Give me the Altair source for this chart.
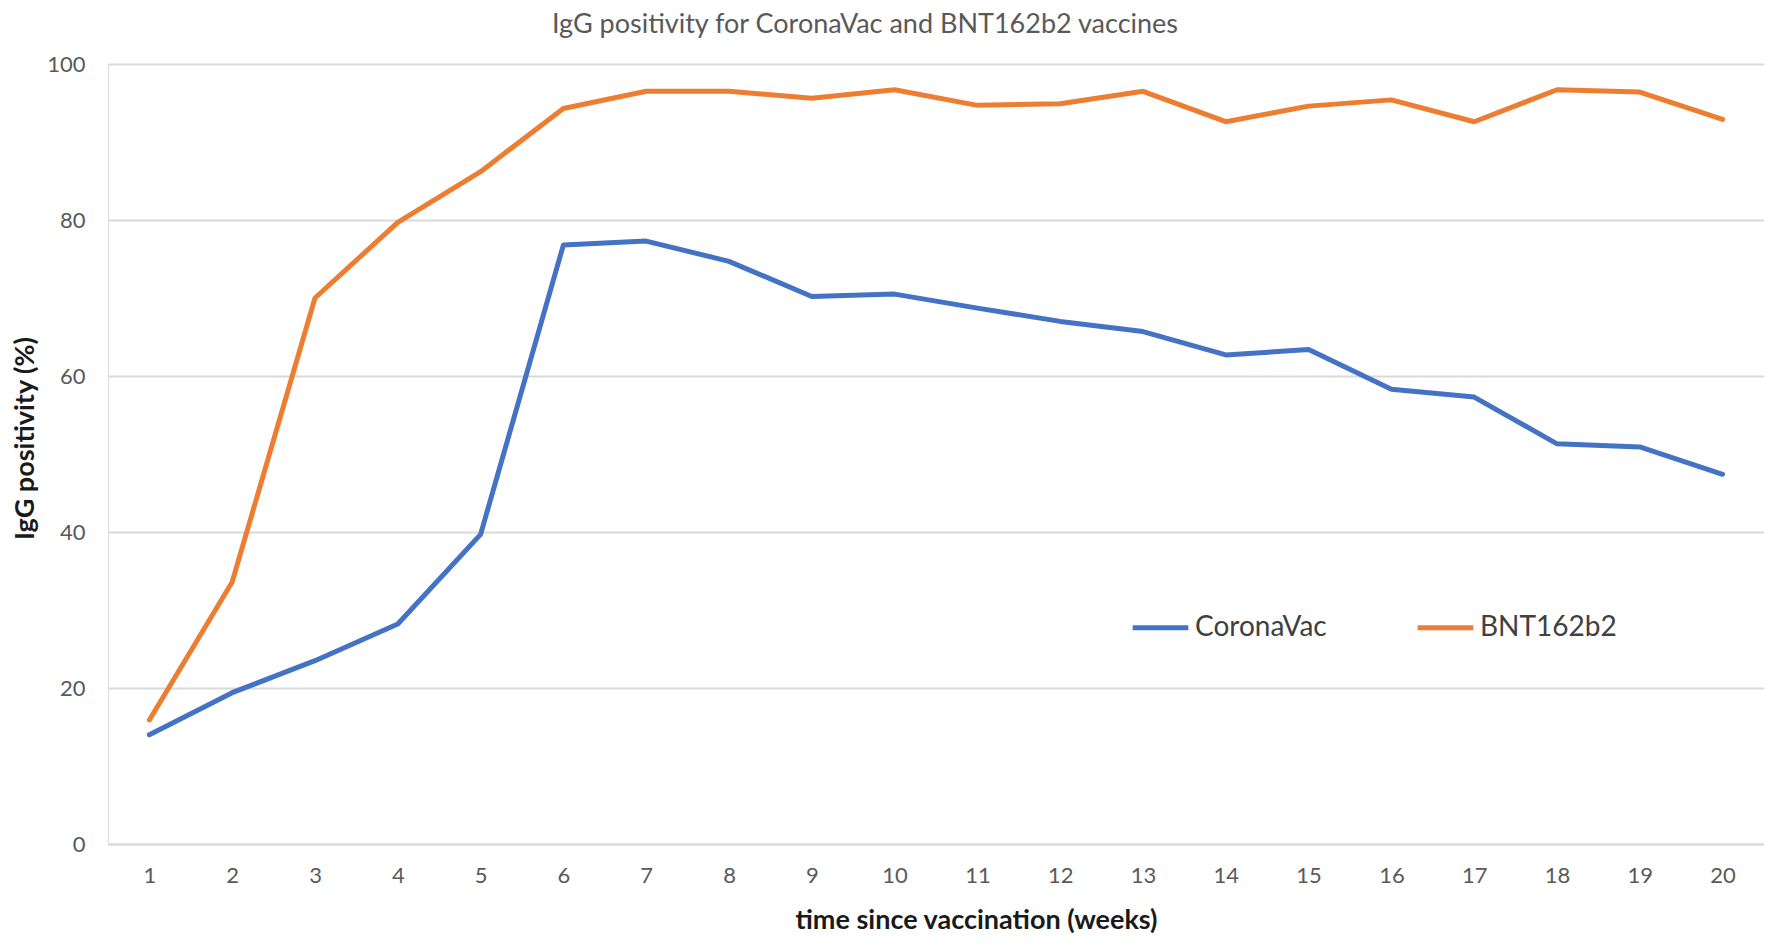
import altair as alt
import pandas as pd

weeks = list(range(1, 21))
coronavac = [14.0, 19.4, 23.5, 28.2, 39.7, 76.8, 77.3, 74.7, 70.2, 70.5,
             68.7, 67.0, 65.7, 62.7, 63.4, 58.3, 57.3, 51.3, 50.9, 47.4]
bnt162b2 = [15.9, 33.6, 70.0, 79.7, 86.2, 94.3, 96.5, 96.5, 95.6, 96.7,
            94.7, 94.9, 96.5, 92.6, 94.6, 95.4, 92.6, 96.7, 96.4, 92.9]
series_names = ["CoronaVac", "BNT162b2"]
series_colors = ["#4472C4", "#ED7D31"]
y_ticks = [0, 20, 40, 60, 80, 100]
chart_title = "IgG positivity for CoronaVac and BNT162b2 vaccines"

rows = []
for name, vals in zip(series_names, [coronavac, bnt162b2]):
    for w, v in zip(weeks, vals):
        rows.append({"week": w, "value": v, "series": name})
df = pd.DataFrame(rows)
title_df = pd.DataFrame({"label": [chart_title]})

FONT = "Lato"

lines = alt.Chart(df).mark_line(strokeWidth=5, strokeCap="round", strokeJoin="round").encode(
    x=alt.X("week:O",
            scale=alt.Scale(type="point", padding=0.5),
            axis=alt.Axis(title="time since vaccination (weeks)", labelAngle=0,
                          ticks=False, domain=True, domainColor="#D9D9D9", domainWidth=2,
                          grid=False, labelFontSize=22, labelColor="#595959",
                          labelPadding=21, labelFont=FONT,
                          titleFont=FONT, titleFontSize=27, titleFontWeight="bold",
                          titleColor="#1a1a1a", titlePadding=21,
                          titleX=868, titleAlign="center")),
    y=alt.Y("value:Q",
            scale=alt.Scale(domain=[0, 100], nice=False, zero=True),
            axis=alt.Axis(title="IgG positivity (%)", values=y_ticks, ticks=False,
                          domain=False, grid=True, gridColor="#D9D9D9", gridWidth=2,
                          labelFontSize=22, labelColor="#595959", labelPadding=23,
                          labelFont=FONT, titleFont=FONT, titleFontSize=27,
                          titleFontWeight="bold", titleColor="#1a1a1a",
                          titleAngle=270, titleX=-83, titleY=374,
                          titleAlign="center", titleBaseline="middle")),
    color=alt.Color("series:N",
                    scale=alt.Scale(domain=series_names, range=series_colors),
                    sort=series_names,
                    legend=alt.Legend(title=None, orient="none", legendX=1022, legendY=533,
                                      direction="horizontal", symbolType="stroke",
                                      symbolSize=3100, symbolStrokeWidth=5,
                                      labelFontSize=28, labelFont=FONT,
                                      labelColor="#404040", labelOffset=4,
                                      columnPadding=80, labelLimit=400)),
    order=alt.Order("series:N"),
)

title_mark = alt.Chart(title_df).mark_text(
    font=FONT, fontSize=27, color="#595959", align="center", baseline="alphabetic"
).encode(
    text="label:N",
    x=alt.value(757),
    y=alt.value(-31),
)

chart = alt.layer(lines, title_mark).properties(
    width=1656,
    height=780,
    autosize=alt.AutoSizeParams(type="none"),
    padding={"left": 100, "top": 56, "right": 0, "bottom": 92},
).configure_view(stroke=None).configure(background="white")

chart.save("out.html", embed_options={"renderer": "svg", "actions": False})
